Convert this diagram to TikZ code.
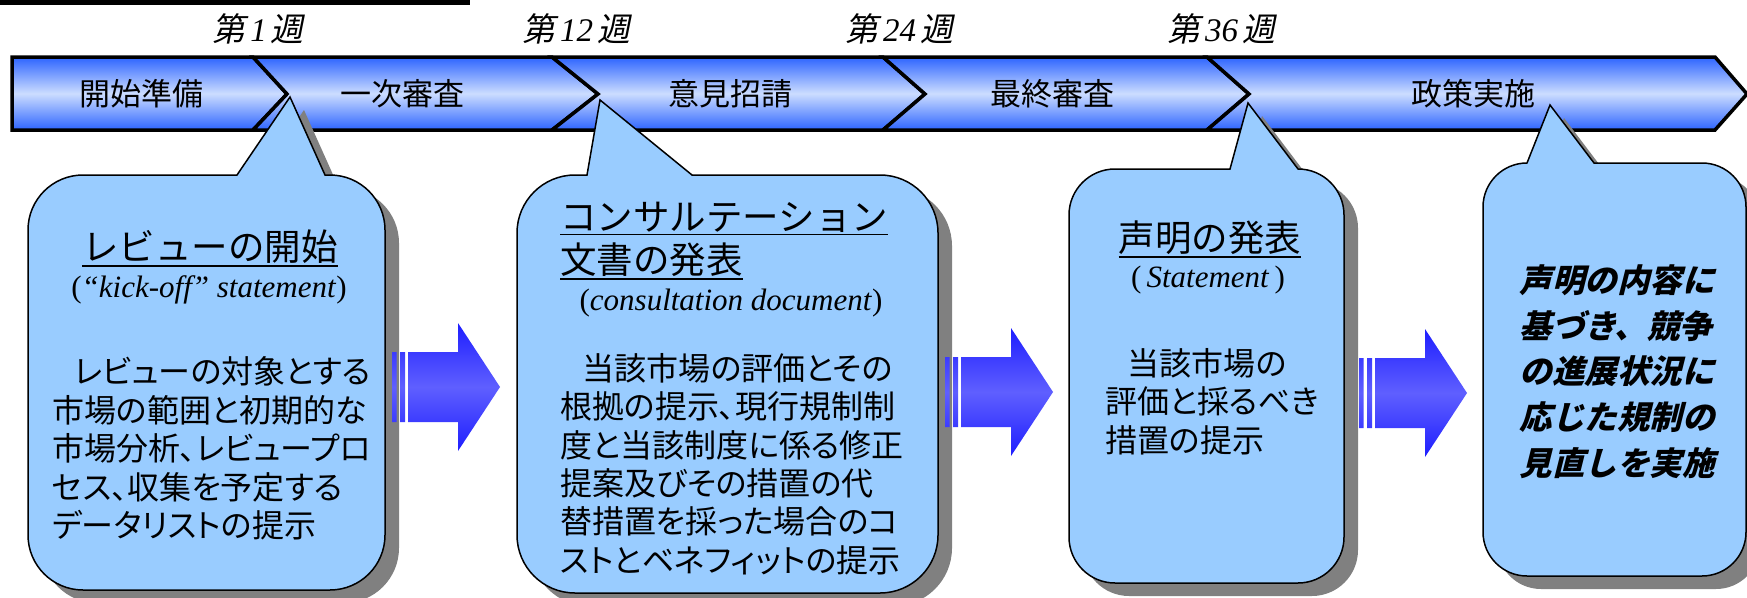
\documentclass[tikz,border=0pt]{standalone}
\usepackage{fontspec}
\setmainfont{Liberation Serif}
\newfontfamily\jp{Noto Sans CJK JP}
\newfontfamily\jpp{Noto Sans CJK JP}[RawFeature=+palt]
\newfontfamily\jpsl{Noto Sans CJK JP}[FakeSlant=0.2]
\newfontfamily\jpbi{Noto Sans CJK JP}[FakeSlant=0.25]
\usepackage{tikz}
\definecolor{barblue}{RGB}{45,100,255}
\definecolor{barlight}{RGB}{204,221,255}
\definecolor{callblue}{RGB}{153,204,255}
\definecolor{arrowblue}{RGB}{30,30,255}
\definecolor{arrowlight}{RGB}{95,95,255}
\definecolor{shadowgray}{RGB}{128,128,128}

% x0 y0 x1 y1 radius, pointer base left/right, pointer tip
\newcommand{\bubblepath}[9]{(#6,#2) -- (#8,#9) -- (#7,#2) -- ({#3-#5},#2)
  arc[start angle=270,end angle=360,radius=#5] -- (#3,{#4-#5})
  arc[start angle=0,end angle=90,radius=#5] -- ({#1+#5},#4)
  arc[start angle=90,end angle=180,radius=#5] -- (#1,{#2+#5})
  arc[start angle=180,end angle=270,radius=#5] -- cycle}

\begin{document}
\begin{tikzpicture}[x=1pt,y=-1pt]
      \tikzstyle segment=[draw=black, line width=3.5pt,
      top color=barblue, bottom color=barblue, middle color=barlight]
      \tikzstyle bubble=[draw=black, line width=1.5pt, fill=callblue]
      \tikzstyle arrowfill=[top color=arrowblue, bottom color=arrowblue, middle color=arrowlight]
      \tikzstyle seglabel=[font={\jp\fontsize{31}{37}\selectfont}]
      \tikzstyle week=[inner sep=0pt, font={\fontsize{33}{38}\selectfont}]
      \tikzstyle heading=[inner sep=0pt, font={\jp\fontsize{36.5}{43}\selectfont}]
      \tikzstyle subhead=[inner sep=0pt, font={\fontsize{31}{36}\selectfont}]
      \tikzstyle body=[inner sep=0pt, align=left, anchor=west,
      font={\jpp\fontsize{32}{38.4}\selectfont}]
      \tikzstyle uline=[line width=1.6pt]
      \useasboundingbox (0,0) rectangle (1747,597);
      \fill[black] (0,0) rectangle (470,5);
      % time bar
      \draw [segment] (12,57) -- (253,57) -- (287,94) -- (253,130) -- (12,130) -- cycle;
      \draw [segment] (253,57) -- (552,57) -- (598,94) -- (552,130) -- (253,130) -- (287,94) -- cycle;
      \draw [segment] (552,57) -- (883,57) -- (925,94) -- (883,130) -- (552,130) -- (598,94) -- cycle;
      \draw [segment] (883,57) -- (1207,57) -- (1249,94) -- (1207,130) -- (883,130) -- (925,94) -- cycle;
      \draw [segment] (1207,57) -- (1715,57) -- (1747,94) -- (1715,130) -- (1207,130) -- (1249,94) -- cycle;
      \node [seglabel] (prep) at (141,94) {開始準備};
      \node [seglabel] (first) at (402,94) {一次審査};
      \node [seglabel] (comment) at (730,94) {意見招請};
      \node [seglabel] (final) at (1052,94) {最終審査};
      \node [seglabel] (policy) at (1473,94) {政策実施};
      \node [week] (w1) at (258,29) {{\jpsl 第}\kern5pt\textit{1}\kern4pt{\jpsl 週}};
      \node [week] (w12) at (576,29) {{\jpsl 第}\kern5pt\textit{12}\kern4pt{\jpsl 週}};
      \node [week] (w24) at (899,29) {{\jpsl 第}\kern5pt\textit{24}\kern4pt{\jpsl 週}};
      \node [week] (w36) at (1221,29) {{\jpsl 第}\kern5pt\textit{36}\kern4pt{\jpsl 週}};
      % callouts
      \fill [shadowgray, shift={(14,13)}] \bubblepath{28}{175}{385}{590}{55}{237}{325}{290}{97};
      \draw [bubble] \bubblepath{28}{175}{385}{590}{55}{237}{325}{290}{97};
      \fill [shadowgray, shift={(14,13)}] \bubblepath{517}{175}{938}{593}{58}{587}{692}{600}{100};
      \draw [bubble] \bubblepath{517}{175}{938}{593}{58}{587}{692}{600}{100};
      \fill [shadowgray, shift={(14,13)}] \bubblepath{1069}{169}{1344}{583}{46}{1230}{1298}{1248}{103};
      \draw [bubble] \bubblepath{1069}{169}{1344}{583}{46}{1230}{1298}{1248}{103};
      \fill [shadowgray, shift={(14,13)}] \bubblepath{1483}{163}{1746}{576}{44}{1527}{1594}{1550}{105};
      \draw [bubble] \bubblepath{1483}{163}{1746}{576}{44}{1527}{1594}{1550}{105};
      % block arrows
      \foreach \b/\m in {392/387, 945/392, 1359/393}
        \shade [arrowfill] (\b,{\m-35}) rectangle ({\b+4.5},{\m+35})
          ({\b+8},{\m-35}) rectangle ({\b+13},{\m+35})
          ({\b+16},{\m-35}) -- ({\b+66},{\m-35}) -- ({\b+66},{\m-64}) -- ({\b+108},\m)
          -- ({\b+66},{\m+64}) -- ({\b+66},{\m+35}) -- ({\b+16},{\m+35}) -- cycle;
      % texts
      \node [heading] (kotitle) at (210,247) {レビューの開始};
      \draw [uline] ([yshift=-2pt]kotitle.south west) -- ([yshift=-2pt]kotitle.south east);
      \node [subhead] (kosub) at (209,290) {(\textit{“kick-off” statement})};
      \node [body] (kobody) at (52,448.5) {\hspace*{0.7em}レビューの対象とする\\
        市場の範囲と初期的な\\市場分析、レビュープロ\\セス、収集を予定する\\データリストの提示};
      \node [heading, anchor=west] (cdtitlea) at (560,217) {コンサルテーション};
      \draw [uline] ([yshift=-2pt]cdtitlea.south west) -- ([yshift=-2pt]cdtitlea.south east);
      \node [heading, anchor=west] (cdtitleb) at (560,260) {文書の発表};
      \draw [uline] ([yshift=-2pt]cdtitleb.south west) -- ([yshift=-2pt]cdtitleb.south east);
      \node [subhead] (cdsub) at (731,303) {(\textit{consultation document})};
      \node [body] (cdbody) at (560,464) {\hspace*{0.7em}当該市場の評価とその\\
        根拠の提示、現行規制制\\度と当該制度に係る修正\\提案及びその措置の代\\
        替措置を採った場合のコ\\ストとベネフィットの提示};
      \node [heading] (sttitle) at (1210,238) {声明の発表};
      \draw [uline] ([yshift=-2pt]sttitle.south west) -- ([yshift=-2pt]sttitle.south east);
      \node [subhead] (stsub) at (1208,280) {(\,\textit{Statement}\,)};
      \node [body] (stbody) at (1105,401.5) {\hspace*{0.7em}当該市場の\\評価と採るべき\\措置の提示};
      \node [inner sep=0pt, align=left, font={\jpbi\bfseries\fontsize{32.5}{45.75}\selectfont}]
        (impl) at (1617,371.5) {声明の内容に\\基づき、競争\\の進展状況に\\応じた規制の\\見直しを実施};
    \end{tikzpicture}
\end{document}
